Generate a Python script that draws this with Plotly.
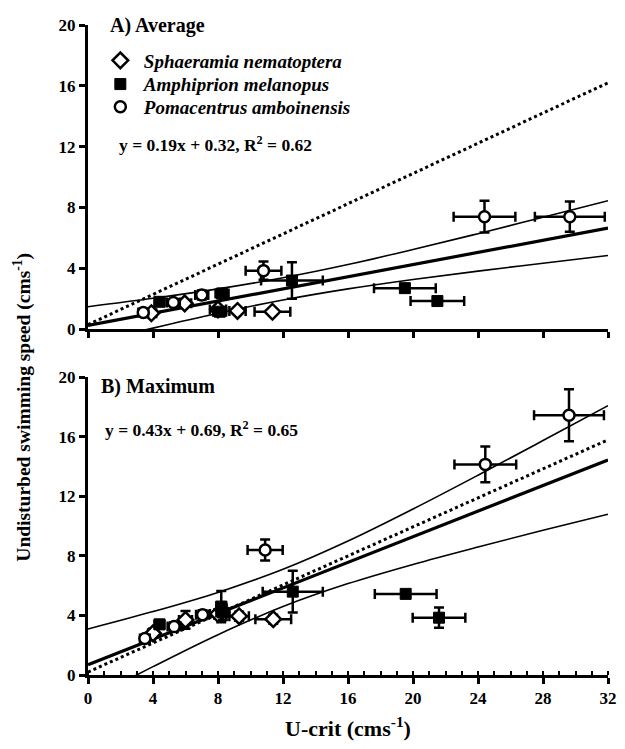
import plotly.graph_objects as go

# ---------------- data ----------------
species = ["Sphaeramia nematoptera", "Amphiprion melanopus", "Pomacentrus amboinensis"]

# Panel A (average)
a_sph_x = [3.9, 5.95, 8.0, 9.2, 11.35]
a_sph_y = [1.05, 1.7, 1.3, 1.2, 1.15]
a_sph_xe = [0.3, 0.4, 0.5, 0.5, 1.1]
a_sph_ye = [0.15, 0.2, 0.2, 0.15, 0.15]

a_amp_x = [4.4, 8.25, 8.1, 12.55, 19.5, 21.5]
a_amp_y = [1.8, 2.35, 1.15, 3.2, 2.7, 1.85]
a_amp_xe = [0.3, 0.4, 0.4, 1.9, 1.9, 1.65]
a_amp_ye = [0.2, 0.3, 0.2, 1.2, 0.15, 0.15]

a_pom_x = [3.4, 5.25, 7.0, 10.8, 24.4, 29.65]
a_pom_y = [1.1, 1.75, 2.25, 3.85, 7.4, 7.4]
a_pom_xe = [0.3, 0.4, 0.4, 1.1, 1.9, 2.15]
a_pom_ye = [0.15, 0.2, 0.3, 0.6, 1.05, 1.0]

# Panel B (maximum)
b_sph_x = [4.0, 6.0, 8.0, 9.3, 11.4]
b_sph_y = [2.8, 3.7, 4.1, 3.95, 3.75]
b_sph_xe = [0.3, 0.4, 0.5, 0.6, 1.1]
b_sph_ye = [0.3, 0.6, 0.3, 0.3, 0.3]

b_amp_x = [4.4, 8.2, 8.3, 12.6, 19.55, 21.6]
b_amp_y = [3.4, 4.6, 4.2, 5.6, 5.45, 3.85]
b_amp_xe = [0.3, 0.3, 0.4, 1.85, 1.9, 1.62]
b_amp_ye = [0.3, 1.05, 0.5, 1.4, 0.2, 0.68]

b_pom_x = [3.5, 5.3, 7.05, 10.9, 24.45, 29.6]
b_pom_y = [2.45, 3.25, 4.05, 8.4, 14.15, 17.45]
b_pom_xe = [0.3, 0.4, 0.4, 1.08, 1.9, 2.15]
b_pom_ye = [0.2, 0.3, 0.3, 0.7, 1.2, 1.75]

# regression, confidence bands and dotted reference line (read values)
line_x = [0, 32]
a_fit_y = [0.25, 6.65]
b_fit_y = [0.69, 14.45]
a_dot_y = [0.3, 16.2]
b_dot_y = [0.2, 15.8]

band_x = [0, 4, 8, 12, 16, 20, 24, 28, 32]
a_up = [1.48, 2.03, 2.65, 3.38, 4.25, 5.24, 6.28, 7.36, 8.45]
a_lo = [-0.98, 0.07, 1.05, 1.92, 2.65, 3.27, 3.82, 4.34, 4.85]
b_up = [3.09, 4.26, 5.55, 7.10, 9.0, 11.15, 13.42, 15.75, 18.1]
b_lo = [-1.71, 0.56, 2.71, 4.60, 6.14, 7.43, 8.60, 9.72, 10.8]

ticks_x = [0, 4, 8, 12, 16, 20, 24, 28, 32]
ticks_y = [0, 4, 8, 12, 16, 20]

FONT = "Liberation Serif"

# ---------------- figure ----------------
fig = go.Figure()

def add_lines(xa, ya, fit_y, dot_y, up, lo):
    fig.add_trace(go.Scatter(x=line_x, y=dot_y, mode="lines", xaxis=xa, yaxis=ya,
                             line=dict(color="black", width=3, dash="dot"),
                             showlegend=False, hoverinfo="skip"))
    fig.add_trace(go.Scatter(x=band_x, y=up, mode="lines", xaxis=xa, yaxis=ya,
                             line=dict(color="black", width=1.6, shape="spline"),
                             showlegend=False, hoverinfo="skip"))
    fig.add_trace(go.Scatter(x=band_x, y=lo, mode="lines", xaxis=xa, yaxis=ya,
                             line=dict(color="black", width=1.6, shape="spline"),
                             showlegend=False, hoverinfo="skip"))
    fig.add_trace(go.Scatter(x=line_x, y=fit_y, mode="lines", xaxis=xa, yaxis=ya,
                             line=dict(color="black", width=3.2),
                             showlegend=False, hoverinfo="skip"))

add_lines("x", "y", a_fit_y, a_dot_y, a_up, a_lo)
add_lines("x2", "y2", b_fit_y, b_dot_y, b_up, b_lo)

styles = [
    dict(symbol="diamond", size=12, color="white", line=dict(color="black", width=2.5)),
    dict(symbol="square", size=11, color="black", line=dict(color="black", width=1)),
    dict(symbol="circle", size=11, color="white", line=dict(color="black", width=2.5)),
]
legend_ids = ["legend", "legend2", "legend3"]

def add_points(xa, ya, xs, ys, xes, yes, idx, show):
    fig.add_trace(go.Scatter(
        x=xs, y=ys, mode="markers", xaxis=xa, yaxis=ya,
        name="<b><i>" + species[idx] + "</i></b>", showlegend=show,
        legend=legend_ids[idx],
        marker=styles[idx],
        error_x=dict(type="data", array=xes, color="black", thickness=2.5, width=5),
        error_y=dict(type="data", array=yes, color="black", thickness=2.5, width=5),
    ))

add_points("x", "y", a_sph_x, a_sph_y, a_sph_xe, a_sph_ye, 0, True)
add_points("x", "y", a_amp_x, a_amp_y, a_amp_xe, a_amp_ye, 1, True)
add_points("x", "y", a_pom_x, a_pom_y, a_pom_xe, a_pom_ye, 2, True)
add_points("x2", "y2", b_sph_x, b_sph_y, b_sph_xe, b_sph_ye, 0, False)
add_points("x2", "y2", b_amp_x, b_amp_y, b_amp_xe, b_amp_ye, 1, False)
add_points("x2", "y2", b_pom_x, b_pom_y, b_pom_xe, b_pom_ye, 2, False)

tickfont = dict(family=FONT, size=17, color="black", weight="bold")
common_x = dict(range=[0, 32], tickvals=ticks_x, showline=True, linecolor="black", linewidth=3,
                ticks="outside", ticklen=6, tickwidth=2.5, tickcolor="black",
                showgrid=False, zeroline=False, tickfont=tickfont, fixedrange=True,
                ticklabeloverflow="allow")
common_y = dict(range=[0, 20], tickvals=ticks_y, showline=True, linecolor="black", linewidth=3,
                ticks="outside", ticklen=6, tickwidth=2.5, tickcolor="black",
                showgrid=False, zeroline=False, tickfont=tickfont, fixedrange=True)

leg_font = dict(family=FONT, size=19, color="black")
def leg(y):
    return dict(x=0.017, y=y, xanchor="left", yanchor="middle", font=leg_font,
                bgcolor="rgba(0,0,0,0)", itemwidth=37, borderwidth=0)

# page has an 8px body margin: figure is sized/offset to compensate
fig.update_layout(
    width=617, height=741,
    margin=dict(l=80, r=12, t=8, b=74),
    paper_bgcolor="white", plot_bgcolor="white",
    font=dict(family=FONT, color="black"),
    xaxis=dict(common_x, anchor="y", domain=[0, 1], showticklabels=False),
    yaxis=dict(common_y, anchor="x", domain=[0.532, 1.0]),
    xaxis2=dict(common_x, anchor="y2", domain=[0, 1],
                minor=dict(dtick=1, ticks="inside", ticklen=4, tickwidth=1.5, tickcolor="black"),
                title=dict(text="<b>U-crit (cms<sup>-1</sup>)</b>",
                           font=dict(family=FONT, size=22, color="black"), standoff=14)),
    yaxis2=dict(common_y, anchor="x2", domain=[0, 0.458]),
    legend=leg(0.9454),
    legend2=leg(0.9089),
    legend3=leg(0.8741),
    showlegend=True,
)

annotations = [
    dict(text="<b>A) Average</b>", x=0.038, y=0.9985, xref="paper", yref="paper",
         xanchor="left", yanchor="middle", showarrow=False,
         font=dict(family=FONT, size=20, color="black")),
    dict(text="<b>y = 0.19x + 0.32, R<sup>2</sup> = 0.62</b>", x=0.055, y=0.8164,
         xref="paper", yref="paper", xanchor="left", yanchor="middle", showarrow=False,
         font=dict(family=FONT, size=17.5, color="black")),
    dict(text="<b>B) Maximum</b>", x=0.022, y=0.4431, xref="paper", yref="paper",
         xanchor="left", yanchor="middle", showarrow=False,
         font=dict(family=FONT, size=20, color="black")),
    dict(text="<b>y = 0.43x + 0.69, R<sup>2</sup> = 0.65</b>", x=0.029, y=0.3779,
         xref="paper", yref="paper", xanchor="left", yanchor="middle", showarrow=False,
         font=dict(family=FONT, size=17.5, color="black")),
    dict(text="<b>Undisturbed swimming speed (cms<sup>-1</sup>)</b>", x=-0.126, y=0.412,
         xref="paper", yref="paper", xanchor="center", yanchor="middle", showarrow=False,
         textangle=-90, font=dict(family=FONT, size=19.5, color="black")),
]
fig.update_layout(annotations=annotations)

fig.write_html("out.html")
